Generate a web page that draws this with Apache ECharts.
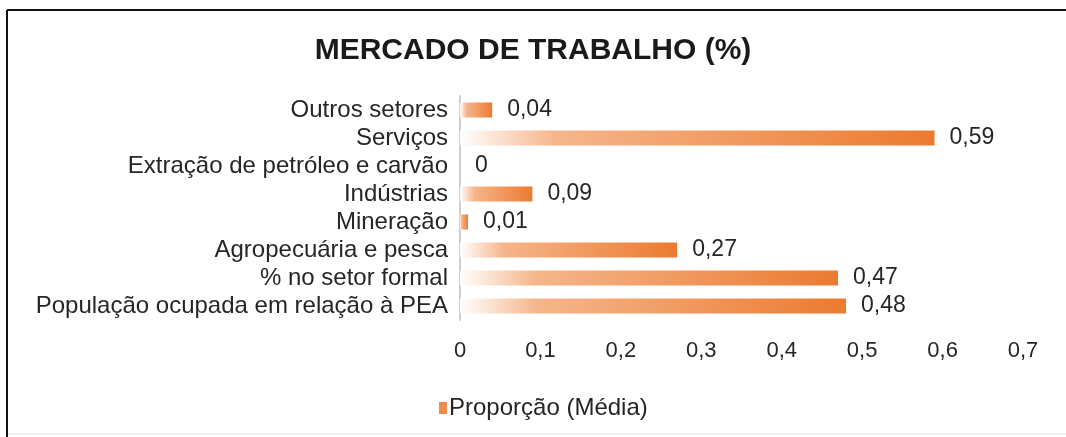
<!DOCTYPE html>
<html>
<head>
<meta charset="utf-8">
<title>Mercado de trabalho</title>
<script src="https://cdn.jsdelivr.net/npm/echarts@6/dist/echarts.min.js"></script>
<style>
  html, body { margin: 0; padding: 0; background: #fff; }
  #chart { width: 1066px; height: 437px; }
</style>
</head>
<body>
<div id="chart"></div>
<script>
// categorias (de cima para baixo)
const categories = [
  'Outros setores',
  'Serviços',
  'Extração de petróleo e carvão',
  'Indústrias',
  'Mineração',
  'Agropecuária e pesca',
  '% no setor formal',
  'População ocupada em relação à PEA'
];
// Proporção (Média)
const proporcao = [0.04, 0.59, 0, 0.09, 0.01, 0.27, 0.47, 0.48];
const seriesName = 'Proporção (Média)';
const titleText = 'MERCADO DE TRABALHO (%)';

const FONT = '"Liberation Sans", Arial, sans-serif';
const TEXT = '#262626';

// número com vírgula decimal
function comma(v) {
  return String(+Number(v).toFixed(2)).replace('.', ',');
}

const chart = echarts.init(document.getElementById('chart'), null, {renderer: 'canvas'});

const barGradient = new echarts.graphic.LinearGradient(0, 0, 1, 0, [
  {offset: 0, color: '#ffffff'},
  {offset: 0.2, color: '#f5b68b'},
  {offset: 1, color: '#ec7a30'}
]);

chart.setOption({
  animation: false,
  backgroundColor: '#ffffff',
  textStyle: {fontFamily: FONT},
  title: {
    text: titleText,
    left: 'center',
    top: 31,
    textStyle: {fontFamily: FONT, fontSize: 30, fontWeight: 'bold', color: '#1a1a1a'}
  },
  legend: {
    data: [seriesName],
    left: 434,
    top: 391,
    icon: 'rect',
    itemWidth: 8,
    itemHeight: 12,
    itemStyle: {color: '#ef8c4c'},
    textStyle: {fontFamily: FONT, fontSize: 24, color: TEXT, padding: [0, 0, 0, -3]}
  },
  grid: {
    left: 460,
    right: 43,
    top: 96,
    bottom: 117,
    containLabel: false
  },
  xAxis: {
    type: 'value',
    min: 0,
    max: 0.7,
    interval: 0.1,
    axisLine: {show: false},
    axisTick: {show: false},
    splitLine: {show: false},
    axisLabel: {
      margin: 20,
      fontFamily: FONT,
      fontSize: 22,
      color: TEXT,
      formatter: comma
    }
  },
  yAxis: {
    type: 'category',
    inverse: true,
    data: categories,
    axisLine: {show: true, lineStyle: {color: '#cfcfcf', width: 2}},
    axisTick: {show: false},
    axisLabel: {
      interval: 0,
      margin: 12,
      fontFamily: FONT,
      fontSize: 24,
      color: TEXT
    }
  },
  graphic: [
    // moldura: linha superior e esquerda
    {type: 'line', shape: {x1: 7, y1: 10, x2: 1066, y2: 10}, style: {stroke: '#111', lineWidth: 2}},
    {type: 'line', shape: {x1: 7, y1: 10, x2: 7, y2: 437}, style: {stroke: '#111', lineWidth: 2}},
    {type: 'line', shape: {x1: 8, y1: 434, x2: 1066, y2: 434}, style: {stroke: '#e2e2e2', lineWidth: 1}}
  ],
  series: [
    {
      name: seriesName,
      type: 'bar',
      data: proporcao,
      barWidth: 15,
      itemStyle: {color: barGradient},
      label: {
        show: true,
        position: 'right',
        distance: 15,
        fontFamily: FONT,
        fontSize: 23,
        color: TEXT,
        formatter: function (p) {
          return comma(p.value);
        }
      }
    }
  ]
});
</script>
</body>
</html>
